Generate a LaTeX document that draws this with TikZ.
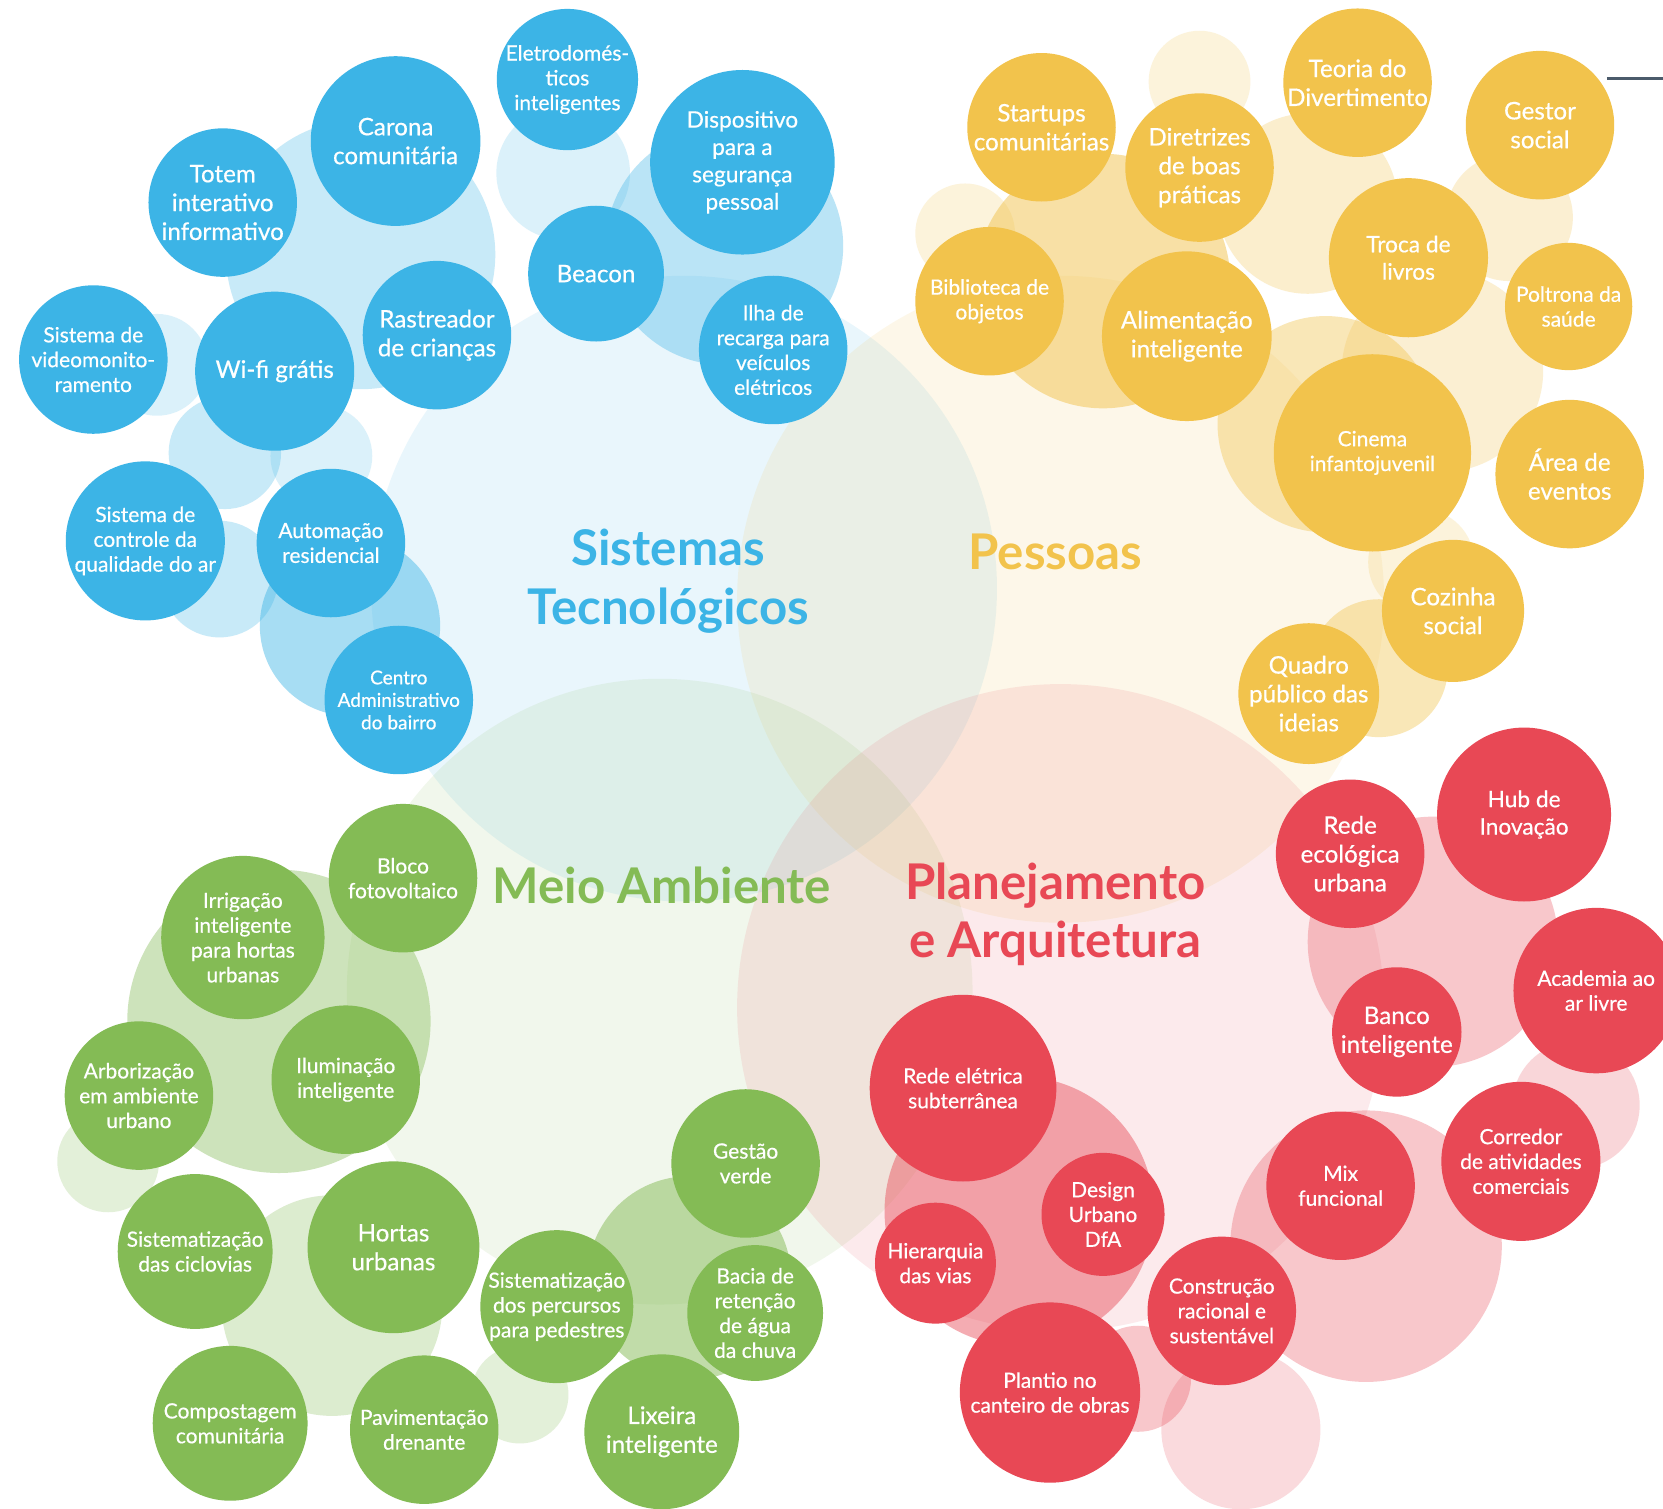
\documentclass[tikz,border=0pt]{standalone}
\usepackage{fontspec}
\setmainfont{Lato}[UprightFeatures={FakeBold=0.5}]
\definecolor{bc}{HTML}{3CB4E6}
\definecolor{yc}{HTML}{F2C34C}
\definecolor{gc}{HTML}{84BB55}
\definecolor{rc}{HTML}{E84855}
\definecolor{linec}{HTML}{4B5B6B}
\tikzset{
 bub/.style={circle, fill=#1, text=white, inner sep=0pt, align=center},
 tL/.style={font=\fontsize{11.4}{13.6}\selectfont},
 tM/.style={font=\fontsize{10.7}{12.9}\selectfont},
 tS/.style={font=\fontsize{9.9}{11.7}\selectfont},
 tXS/.style={font=\fontsize{9}{10.6}\selectfont},
 ttl/.style={font=\fontsize{23.2}{27.5}\selectfont\bfseries, align=center, text=#1},
}
\begin{document}
\begin{tikzpicture}[x=0.5pt,y=-0.5pt]
\fill[white] (0,0) rectangle (1568,1422);
\useasboundingbox (0,0) rectangle (1568,1422);
\clip (0,0) rectangle (1568,1422);

% big category circles
\fill[bc, fill opacity=0.11] (645,555) circle (295);
\fill[yc, fill opacity=0.12] (1000,565) circle (305);
\fill[gc, fill opacity=0.11] (622,935) circle (295);
\fill[rc, fill opacity=0.11] (1000,950) circle (305);

% blue halos
\fill[bc, fill opacity=0.28] (340,240) circle (127);
\fill[bc, fill opacity=0.18] (531,163) circle (63);
\fill[bc, fill opacity=0.35] (683,232) circle (112);
\fill[bc, fill opacity=0.18] (148,344) circle (48);
\fill[bc, fill opacity=0.28] (212,427) circle (53);
\fill[bc, fill opacity=0.18] (303,430) circle (48);
\fill[bc, fill opacity=0.28] (207,546) circle (55);
\fill[bc, fill opacity=0.45] (330,590) circle (85);

% yellow halos
\fill[yc, fill opacity=0.2] (1131,77) circle (48);
\fill[yc, fill opacity=0.2] (910,220) circle (47);
\fill[yc, fill opacity=0.5] (1040,265) circle (120);
\fill[yc, fill opacity=0.28] (1233,192) circle (85);
\fill[yc, fill opacity=0.25] (1423,205) circle (60);
\fill[yc, fill opacity=0.25] (1360,350) circle (95);
\fill[yc, fill opacity=0.4] (1250,400) circle (102);
\fill[yc, fill opacity=0.2] (1340,530) circle (50);
\fill[yc, fill opacity=0.4] (1300,630) circle (65);

% green halos
\fill[gc, fill opacity=0.4] (263,963) circle (143);
\fill[gc, fill opacity=0.22] (102,1095) circle (48);
\fill[gc, fill opacity=0.28] (313,1231) circle (104);
\fill[gc, fill opacity=0.5] (650,1205) circle (96);
\fill[gc, fill opacity=0.22] (490,1315) circle (46);

% red halos
\fill[rc, fill opacity=0.3] (1351,888) circle (118);
\fill[rc, fill opacity=0.22] (1486,1042) circle (60);
\fill[rc, fill opacity=0.3] (1288,1175) circle (128);
\fill[rc, fill opacity=0.45] (961,1142) circle (127);
\fill[rc, fill opacity=0.3] (1073,1300) circle (50);
\fill[rc, fill opacity=0.2] (1170,1348) circle (75);

% titles
\node[ttl=bc] (tST) at (630,548) {Sistemas\\Tecnológicos};
\node[ttl=yc] (tP) at (995,520) {Pessoas};
\node[ttl=gc] (tMA) at (624,835) {Meio Ambiente};
\node[ttl=rc] (tPA) at (995,862) {Planejamento\\e Arquitetura};

% blue nodes
\node[bub=bc, minimum size=64pt, tS] (eletro) at (535,75) {Eletrodomés-\\ticos\\inteligentes};
\node[bub=bc, minimum size=80pt, tL] (carona) at (373,133) {Carona\\comunitária};
\node[bub=bc, minimum size=70pt, tL] (totem) at (210,191) {Totem\\interativo\\informativo};
\node[bub=bc, minimum size=87pt, tM] (dispo) at (700,153) {Dispositivo\\para a\\segurança\\pessoal};
\node[bub=bc, minimum size=64pt, tL] (beacon) at (562,258) {Beacon};
\node[bub=bc, minimum size=70pt, tL] (rastr) at (412,316) {Rastreador\\de crianças};
\node[bub=bc, minimum size=75pt, tL] (wifi) at (259,350) {Wi-fi grátis};
\node[bub=bc, minimum size=70pt, tS] (video) at (88,339) {Sistema de\\videomonito-\\ramento};
\node[bub=bc, minimum size=70pt, tS] (ilha) at (729,330) {Ilha de\\recarga para\\veículos\\elétricos};
\node[bub=bc, minimum size=75pt, tS] (ar) at (137,510) {Sistema de\\controle da\\qualidade do ar};
\node[bub=bc, minimum size=70pt, tS] (autom) at (312,512) {Automação\\residencial};
\node[bub=bc, minimum size=70pt, tXS] (centro) at (376,660) {Centro\\Administrativo\\do bairro};

% yellow nodes
\node[bub=yc, minimum size=70pt, tL] (startups) at (982,120) {Startups\\comunitárias};
\node[bub=yc, minimum size=70pt, tL] (diretr) at (1131,158) {Diretrizes\\de boas\\práticas};
\node[bub=yc, minimum size=70pt, tL] (teoria) at (1280,78) {Teoria do\\Divertimento};
\node[bub=yc, minimum size=70pt, tL] (gestor) at (1452,118) {Gestor\\social};
\node[bub=yc, minimum size=70pt, tS] (biblio) at (933,284) {Biblioteca de\\objetos};
\node[bub=yc, minimum size=80pt, tL] (alim) at (1119,317) {Alimentação\\inteligente};
\node[bub=yc, minimum size=75pt, tM] (troca) at (1328,243) {Troca de\\livros};
\node[bub=yc, minimum size=60pt, tS] (poltr) at (1479,289) {Poltrona da\\saúde};
\node[bub=yc, minimum size=93pt, tS] (cinema) at (1294,427) {Cinema\\infantojuvenil};
\node[bub=yc, minimum size=70pt, tL] (area) at (1480,447) {Área de\\eventos};
\node[bub=yc, minimum size=67pt, tL] (cozinha) at (1370,576) {Cozinha\\social};
\node[bub=yc, minimum size=63pt, tL] (quadro) at (1234,654) {Quadro\\público das\\ideias};

% green nodes
\node[bub=gc, minimum size=70pt, tS] (bloco) at (380,828) {Bloco\\fotovoltaico};
\node[bub=gc, minimum size=77pt, tS] (irrig) at (229,884) {Irrigação\\inteligente\\para hortas\\urbanas};
\node[bub=gc, minimum size=70pt, tS] (arbor) at (131,1033) {Arborização\\em ambiente\\urbano};
\node[bub=gc, minimum size=70pt, tS] (ilum) at (326,1018) {Iluminação\\inteligente};
\node[bub=gc, minimum size=73pt, tS] (ciclo) at (184,1180) {Sistematização\\das ciclovias};
\node[bub=gc, minimum size=81pt, tL] (hortas) at (371,1176) {Hortas\\urbanas};
\node[bub=gc, minimum size=73pt, tS] (compo) at (217,1342) {Compostagem\\comunitária};
\node[bub=gc, minimum size=70pt, tS] (pavim) at (400,1348) {Pavimentação\\drenante};
\node[bub=gc, minimum size=70pt, tS] (percur) at (525,1232) {Sistematização\\dos percursos\\para pedestres};
\node[bub=gc, minimum size=70pt, tS] (gestao) at (703,1097) {Gestão\\verde};
\node[bub=gc, minimum size=64pt, tS] (bacia) at (712,1238) {Bacia de\\retenção\\de água\\da chuva};
\node[bub=gc, minimum size=73pt, tL] (lixeira) at (624,1350) {Lixeira\\inteligente};

% red nodes
\node[bub=rc, minimum size=70pt, tL] (redeeco) at (1273,805) {Rede\\ecológica\\urbana};
\node[bub=rc, minimum size=82pt, tM] (hub) at (1437,768) {Hub de\\Inovação};
\node[bub=rc, minimum size=78pt, tS] (academia) at (1505,934) {Academia ao\\ar livre};
\node[bub=rc, minimum size=61pt, tL] (banco) at (1317,973) {Banco\\inteligente};
\node[bub=rc, minimum size=88pt, tS] (eletrica) at (908,1026) {Rede elétrica\\subterrânea};
\node[bub=rc, minimum size=58pt, tS] (design) at (1040,1145) {Design\\Urbano\\DfA};
\node[bub=rc, minimum size=57pt, tS] (hierar) at (882,1191) {Hierarquia\\das vias};
\node[bub=rc, minimum size=70pt, tS] (mix) at (1264,1118) {Mix\\funcional};
\node[bub=rc, minimum size=75pt, tS] (corredor) at (1434,1095) {Corredor\\de atividades\\comerciais};
\node[bub=rc, minimum size=70pt, tS] (constr) at (1152,1236) {Construção\\racional e\\sustentável};
\node[bub=rc, minimum size=85pt, tS] (plantio) at (990,1313) {Plantio no\\canteiro de obras};

% stray line at top right
\coordinate (lnA) at (1515,74);
\coordinate (lnB) at (1572,74);
\draw[linec, line width=1.2pt] (lnA) -- (lnB);
\end{tikzpicture}
\end{document}
